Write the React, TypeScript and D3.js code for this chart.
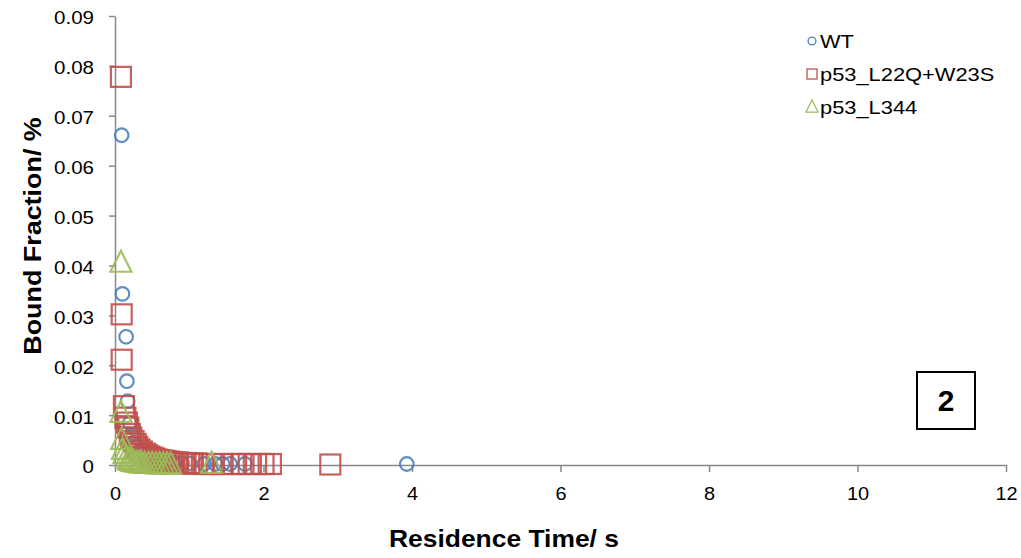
import React, { useEffect, useRef } from "react";
import * as d3 from "d3";

// WT residence times (s) and bound fraction (%)
const wtTime = [0.09, 0.1, 0.15, 0.16, 0.17, 0.2, 0.22, 0.25, 0.28, 0.32, 0.36, 0.4, 0.45, 0.5, 0.55, 0.6, 0.7, 0.8, 0.9, 1.0, 1.2, 1.35, 1.45, 1.55, 1.75, 3.93];
const wtFrac = [0.0661, 0.0343, 0.0257, 0.0168, 0.0128, 0.0084, 0.006, 0.0045, 0.0035, 0.0027, 0.002, 0.0016, 0.0012, 0.001, 0.0008, 0.0006, 0.0005, 0.0004, 0.0003, 0.0003, 0.0002, 0.0002, 0.0002, 0.0002, 0.0002, 0.0002];

const mutTime = [0.08, 0.09, 0.09, 0.12, 0.14, 0.16, 0.18, 0.2, 0.22, 0.25, 0.28, 0.3, 0.33, 0.36, 0.4, 0.43, 0.46, 0.5, 0.53, 0.56, 0.6, 0.64, 0.68, 0.72, 0.76, 0.8, 0.85, 0.9, 0.95, 1.0, 1.05, 1.1, 1.2, 1.3, 1.45, 1.6, 1.7, 1.8, 1.9, 2.0, 2.1, 2.9];
const mutFrac = [0.0778, 0.0302, 0.0211, 0.0118, 0.0095, 0.0085, 0.0075, 0.0062, 0.0055, 0.0048, 0.0042, 0.0036, 0.0031, 0.0027, 0.0023, 0.002, 0.0017, 0.0015, 0.0013, 0.0011, 0.001, 0.0009, 0.0008, 0.0007, 0.0006, 0.0005, 0.0005, 0.0004, 0.0004, 0.0003, 0.0003, 0.0003, 0.0002, 0.0002, 0.0002, 0.0002, 0.0002, 0.0002, 0.0002, 0.0002, 0.0002, 0.0001];

const l344Time = [0.08, 0.08, 0.09, 0.1, 0.12, 0.15, 0.18, 0.2, 0.23, 0.26, 0.3, 0.33, 0.36, 0.4, 0.45, 0.5, 0.55, 0.6, 0.65, 0.7, 0.75, 1.3];
const l344Frac = [0.0405, 0.0104, 0.005, 0.003, 0.0022, 0.0015, 0.001, 0.0008, 0.0006, 0.0005, 0.0004, 0.0003, 0.0003, 0.0002, 0.0002, 0.0002, 0.0001, 0.0001, 0.0001, 0.0001, 0.0001, 0.0002];

const seriesNames = ["WT", "p53_L22Q+W23S", "p53_L344"];
const seriesColors = ["#4F81BD", "#C0504D", "#9BBB59"];
const xTicks = [0, 2, 4, 6, 8, 10, 12];
const yTicks = [0, 0.01, 0.02, 0.03, 0.04, 0.05, 0.06, 0.07, 0.08, 0.09];

// widen glyphs a little, the original text is rendered wider than Liberation Sans
const stretch = (sel: any, k: number) => {
  sel.each(function (this: SVGTextElement) {
    const len = this.getComputedTextLength();
    d3.select(this).attr("textLength", len * k).attr("lengthAdjust", "spacingAndGlyphs");
  });
};

const App = () => {
  const container = useRef<SVGSVGElement | null>(null);

  useEffect(() => {
    const width = 1021;
    const height = 558;
    const marginLeft = 115;
    const marginRight = 15;
    const marginTop = 16;
    const marginBottom = 93;
    const axisColor = "#898989";
    const font = "'Liberation Sans', Arial, sans-serif";

    const x = d3.scaleLinear().domain([0, 12]).range([marginLeft, width - marginRight]);
    const y = d3.scaleLinear().domain([0, 0.09]).range([height - marginBottom, marginTop]);

    const svg = d3.select(container.current);
    svg.selectAll("*").remove();
    svg.append("rect").attr("width", width).attr("height", height).attr("fill", "#fff");

    // y axis
    const gy = svg
      .append("g")
      .attr("transform", `translate(${marginLeft},0)`)
      .call(d3.axisLeft(y).tickValues(yTicks).tickSize(6).tickSizeOuter(0).tickPadding(15).tickFormat((d) => (d === 0 ? "0" : d3.format(".2f")(d as number))));
    gy.selectAll(".domain").attr("stroke", axisColor).attr("stroke-width", 1.5);
    gy.selectAll(".tick line").attr("stroke", axisColor).attr("stroke-width", 1.5);
    gy.selectAll("text").attr("font-family", font).attr("font-size", 19).attr("fill", "#000").attr("dy", "0.42em");
    stretch(gy.selectAll("text"), 1.08);

    // x axis
    const gx = svg
      .append("g")
      .attr("transform", `translate(0,${height - marginBottom})`)
      .call(d3.axisBottom(x).tickValues(xTicks).tickSize(7).tickSizeOuter(0).tickPadding(15).tickFormat(d3.format("d")));
    gx.selectAll(".domain").attr("stroke", axisColor).attr("stroke-width", 1.5);
    gx.selectAll(".tick line").attr("stroke", axisColor).attr("stroke-width", 1.5);
    gx.selectAll("text").attr("font-family", font).attr("font-size", 19).attr("fill", "#000");
    stretch(gx.selectAll("text"), 1.05);

    // axis titles
    const xt = svg
      .append("text")
      .attr("x", 504)
      .attr("y", 547)
      .attr("text-anchor", "middle")
      .attr("font-family", font)
      .attr("font-weight", "bold")
      .attr("font-size", 24)
      .text("Residence Time/ s");
    stretch(xt, 1.1);
    const yt = svg
      .append("text")
      .attr("transform", "translate(41,236) rotate(-90)")
      .attr("text-anchor", "middle")
      .attr("font-family", font)
      .attr("font-weight", "bold")
      .attr("font-size", 24)
      .text("Bound Fraction/ %");
    stretch(yt, 1.12);

    const triangle = (s: number) => `M0,${-s * 0.58}L${s / 2},${s * 0.42}L${-s / 2},${s * 0.42}Z`;
    const marker = (g: any, i: number, size: number) => {
      if (i === 0) g.append("circle").attr("r", size * 0.34);
      else if (i === 1) g.append("rect").attr("x", -size / 2).attr("y", -size / 2).attr("width", size).attr("height", size);
      else g.append("path").attr("d", triangle(size * 1.05));
    };

    const series = [
      wtTime.map((t, i) => [t, wtFrac[i]]),
      mutTime.map((t, i) => [t, mutFrac[i]]),
      l344Time.map((t, i) => [t, l344Frac[i]]),
    ];

    series.forEach((pts, si) => {
      const g = svg
        .append("g")
        .attr("fill", "none")
        .attr("stroke", seriesColors[si])
        .attr("stroke-width", 2.2)
        .attr("stroke-opacity", 0.9);
      pts.forEach((d) => {
        const m = g.append("g").attr("transform", `translate(${x(d[0])},${y(d[1])})`);
        marker(m, si, 20);
      });
    });

    // legend
    const legend = svg.append("g").attr("transform", "translate(812,41)");
    seriesNames.forEach((name, i) => {
      const row = legend.append("g").attr("transform", `translate(0,${i * 33})`);
      const m = row
        .append("g")
        .attr("fill", "none")
        .attr("stroke", seriesColors[i])
        .attr("stroke-width", 1.3);
      marker(m, i, i === 1 ? 10 : 11.5);
      const t = row
        .append("text")
        .attr("x", 8)
        .attr("y", 7)
        .attr("font-family", font)
        .attr("font-size", 19)
        .text(name);
      stretch(t, 1.15);
    });

    // panel label
    svg
      .append("rect")
      .attr("x", 917)
      .attr("y", 372)
      .attr("width", 58)
      .attr("height", 57)
      .attr("fill", "#fff")
      .attr("stroke", "#000")
      .attr("stroke-width", 2);
    svg
      .append("text")
      .attr("x", 946)
      .attr("y", 411)
      .attr("text-anchor", "middle")
      .attr("font-family", font)
      .attr("font-weight", "bold")
      .attr("font-size", 30)
      .text("2");
  }, []);

  return (
    <svg
      ref={container}
      width={1021}
      height={558}
      style={{ position: "absolute", left: 0, top: 0, display: "block" }}
    />
  );
};

export default App;
